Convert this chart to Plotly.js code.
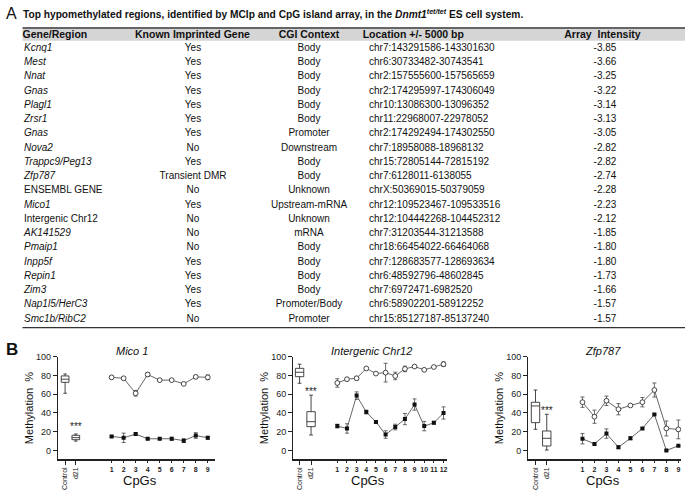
<!DOCTYPE html>
<html><head><meta charset="utf-8">
<script src="https://cdn.plot.ly/plotly-3.0.1.min.js"></script>
<style>html,body{margin:0;padding:0;background:#fff}</style>
</head><body><div id="chart" style="width:690px;height:496px"></div>
<script>
// ---------- Table data (panel A) ----------
const tableHeaders = ['Gene/Region', 'Known Imprinted Gene', 'CGI Context', 'Location +/- 5000 bp', 'Array\u00a0\u00a0Intensity'];
const genes = ['Kcnq1','Mest','Nnat','Gnas','Plagl1','Zrsr1','Gnas','Nova2','Trappc9/Peg13','Zfp787','ENSEMBL GENE','Mico1','Intergenic Chr12','AK141529','Pmaip1','Inpp5f','Repin1','Zim3','Nap1l5/HerC3','Smc1b/RibC2'];
const imprinted = ['Yes','Yes','Yes','Yes','Yes','Yes','Yes','No','Yes','Transient DMR','No','Yes','No','No','No','Yes','Yes','Yes','Yes','No'];
const cgiContext = ['Body','Body','Body','Body','Body','Body','Promoter','Downstream','Body','Body','Unknown','Upstream-mRNA','Unknown','mRNA','Body','Body','Body','Body','Promoter/Body','Promoter'];
const locations = ['chr7:143291586-143301630','chr6:30733482-30743541','chr2:157555600-157565659','chr2:174295997-174306049','chr10:13086300-13096352','chr11:22968007-22978052','chr2:174292494-174302550','chr7:18958088-18968132','chr15:72805144-72815192','chr7:6128011-6138055','chrX:50369015-50379059','chr12:109523467-109533516','chr12:104442268-104452312','chr7:31203544-31213588','chr18:66454022-66464068','chr7:128683577-128693634','chr6:48592796-48602845','chr7:6972471-6982520','chr6:58902201-58912252','chr15:85127187-85137240'];
const intensity = ['-3.85','-3.66','-3.25','-3.22','-3.14','-3.13','-3.05','-2.82','-2.82','-2.74','-2.28','-2.23','-2.12','-1.85','-1.80','-1.80','-1.73','-1.66','-1.57','-1.57'];

// ---------- Panel B data ----------
const plotTitles = ['Mico 1', 'Intergenic Chr12', 'Zfp787'];
const boxLabels = ['Control', 'd21'];

const mico1Cpg = [1,2,3,4,5,6,7,8,9];
const mico1Control = [78, 77, 61, 81, 75, 75, 71, 78.5, 78];
const mico1ControlErr = [1.5, 1.5, 3, 2, 1.5, 1, 1, 1.5, 2.5];
const mico1D21 = [15, 13.5, 17.5, 12.5, 12.5, 12.5, 10.5, 16, 13.5];
const mico1D21Err = [1, 5, 1.5, 1, 1, 1.5, 2, 3, 1.5];
const mico1BoxLow = [61, 10];
const mico1BoxQ1 = [72.7, 11.5];
const mico1BoxMed = [76, 13.7];
const mico1BoxQ3 = [79.5, 16.2];
const mico1BoxHigh = [81.6, 17.6];

const chr12Cpg = [1,2,3,4,5,6,7,8,9,10,11,12];
const chr12Control = [72, 76, 77, 87.5, 82, 83, 79.5, 87, 89.5, 86, 89, 92];
const chr12ControlErr = [4.5, 1.5, 2, 1, 1, 10, 4, 3, 1, 1, 1.5, 2.5];
const chr12D21 = [26, 23.5, 58.5, 41, 30.5, 17, 25, 33.5, 49, 26, 29.5, 40];
const chr12D21Err = [2, 5, 4, 2, 1.5, 4, 3, 6, 6, 5, 1.5, 6.5];
const chr12BoxLow = [71.7, 16.5];
const chr12BoxQ1 = [78.7, 25.4];
const chr12BoxMed = [83.4, 30.7];
const chr12BoxQ3 = [87.6, 41.4];
const chr12BoxHigh = [92, 59];

const zfpCpg = [1,2,3,4,5,6,7,8,9];
const zfpControl = [51.5, 36, 53, 44, 48, 51.5, 64.5, 23.5, 22.5];
const zfpControlErr = [5.5, 7, 5, 6, 1, 5, 7.5, 8, 10];
const zfpD21 = [12.5, 7, 18, 3.5, 13, 23.5, 38.5, 0, 5];
const zfpD21Err = [5.5, 1, 5, 1.5, 1.5, 1, 1, 0.5, 0.5];
const zfpBoxLow = [22.6, 0.5];
const zfpBoxQ1 = [29.7, 4.8];
const zfpBoxMed = [47.5, 13];
const zfpBoxQ3 = [51.4, 20.8];
const zfpBoxHigh = [64.5, 38.6];

const starValues = [26, 63, 43];
const yTicks = [0, 20, 40, 60, 80, 100];

// ---------- layout / style config ----------
const W = 690, H = 496;
const FONT = 'Liberation Sans, Arial, sans-serif';
const px = v => v / W;
const py = v => 1 - v / H;
const plainGeneNames = ['ENSEMBL GENE', 'Intergenic Chr12'];

// table geometry (pixels / row units)
const tableCols = [
  {cells: genes.map(g => plainGeneNames.includes(g) ? g : '<i>' + g + '</i>'), x: 24, hx: 22.5, pos: 'middle right', hpos: 'middle right'},
  {cells: imprinted, x: 193, hx: 192.5, pos: 'middle center', hpos: 'middle center'},
  {cells: cgiContext, x: 309, hx: 309, pos: 'middle center', hpos: 'middle center'},
  {cells: locations, x: 369, hx: 362.7, pos: 'middle right', hpos: 'middle right'},
  {cells: intensity, x: 605, hx: 602.5, pos: 'middle center', hpos: 'middle center'}
];
const rowTop = 48.3, rowPitch = 14.26, tblTop = 28, tblBottom = 327.6, headerY = 35;
const toRow = v => (v - rowTop) / rowPitch;

const panels = [
  {cpg: mico1Cpg, ctl: mico1Control, ctlErr: mico1ControlErr, d21: mico1D21, d21Err: mico1D21Err,
   box: [mico1BoxLow, mico1BoxQ1, mico1BoxMed, mico1BoxQ3, mico1BoxHigh],
   xdom: [58, 215], xr: [-3.46, 9.6], boxPos: [-2.87, -1.98], boxW: 0.64, titleX: 0.47, cpgX: 0.522},
  {cpg: chr12Cpg, ctl: chr12Control, ctlErr: chr12ControlErr, d21: chr12D21, d21Err: chr12D21Err,
   box: [chr12BoxLow, chr12BoxQ1, chr12BoxMed, chr12BoxQ3, chr12BoxHigh],
   xdom: [293.3, 447], xr: [-3.56, 12.36], boxPos: [-2.91, -1.72], boxW: 0.87, titleX: 0.51, cpgX: 0.484},
  {cpg: zfpCpg, ctl: zfpControl, ctlErr: zfpControlErr, d21: zfpD21, d21Err: zfpD21Err,
   box: [zfpBoxLow, zfpBoxQ1, zfpBoxMed, zfpBoxQ3, zfpBoxHigh],
   xdom: [528.3, 681], xr: [-3.52, 9.22], boxPos: [-2.92, -1.98], boxW: 0.7, titleX: 0.49, cpgX: 0.491}
];
const yDom = [py(459.4), py(356.7)];
const yRange = [-9.5, 100];

const traces = [];
const annotations = [];
const layout = {
  width: W, height: H, margin: {l: 0, r: 0, t: 0, b: 0},
  paper_bgcolor: '#fff', plot_bgcolor: 'rgba(0,0,0,0)', showlegend: false,
  font: {family: FONT, color: '#111'},
  shapes: [
    {type: 'line', xref: 'paper', yref: 'paper', x0: px(22.5), x1: px(685), y0: py(28), y1: py(28), line: {color: '#333', width: 1.4}},
    {type: 'rect', xref: 'paper', yref: 'paper', x0: px(22.5), x1: px(685), y0: py(40.7), y1: py(28.7), fillcolor: '#d5d5d5', line: {width: 0}, layer: 'below'},
    {type: 'line', xref: 'paper', yref: 'paper', x0: px(22.5), x1: px(685), y0: py(327.6), y1: py(327.6), line: {color: '#333', width: 1.4}}
  ],
  xaxis7: {domain: [0, 1], range: [0, W], visible: false, fixedrange: true, anchor: 'y7'},
  yaxis7: {domain: [py(tblBottom), py(tblTop)], range: [toRow(tblBottom), toRow(tblTop)], visible: false, fixedrange: true, anchor: 'x7'}
};

// Table drawn as text marks on a hidden row/column axis pair
const rowIdx = genes.map((g, i) => i);
tableCols.forEach((c, j) => {
  traces.push({
    type: 'scatter', mode: 'text', xaxis: 'x7', yaxis: 'y7',
    x: rowIdx.map(() => c.x), y: rowIdx, text: c.cells, textposition: c.pos,
    textfont: {family: FONT, size: 10, color: '#111'}, hoverinfo: 'skip', cliponaxis: false
  });
  traces.push({
    type: 'scatter', mode: 'text', xaxis: 'x7', yaxis: 'y7',
    x: [c.hx], y: [toRow(headerY)], text: ['<b>' + tableHeaders[j] + '</b>'], textposition: c.hpos,
    textfont: {family: FONT, size: 10.5, color: '#111'}, hoverinfo: 'skip', cliponaxis: false
  });
});

panels.forEach((p, i) => {
  const n = i + 1;
  const xa = n === 1 ? 'x' : 'x' + n;
  const ya = n === 1 ? 'y' : 'y' + n;
  const xo = 'x' + (n + 3);
  traces.push({
    type: 'box', xaxis: xa, yaxis: ya, x: p.boxPos,
    lowerfence: p.box[0], q1: p.box[1], median: p.box[2], q3: p.box[3], upperfence: p.box[4],
    width: p.boxW, whiskerwidth: 0.45, boxpoints: false,
    line: {color: '#333', width: 0.9}, fillcolor: '#fff', hoverinfo: 'skip'
  });
  traces.push({
    type: 'scatter', mode: 'lines+markers', xaxis: xo, yaxis: ya, x: p.cpg, y: p.ctl,
    error_y: {type: 'data', array: p.ctlErr, color: '#444', thickness: 0.8, width: 2},
    line: {color: '#555', width: 0.9},
    marker: {symbol: 'circle', size: 4.8, color: '#fff', line: {color: '#333', width: 0.9}}
  });
  traces.push({
    type: 'scatter', mode: 'lines+markers', xaxis: xo, yaxis: ya, x: p.cpg, y: p.d21,
    error_y: {type: 'data', array: p.d21Err, color: '#444', thickness: 0.8, width: 2},
    line: {color: '#555', width: 0.9},
    marker: {symbol: 'square', size: 4, color: '#111'}
  });
  const axKey = n === 1 ? 'xaxis' : 'xaxis' + n;
  const ayKey = n === 1 ? 'yaxis' : 'yaxis' + n;
  layout[axKey] = {
    domain: [px(p.xdom[0]), px(p.xdom[1])], anchor: ya, range: p.xr, fixedrange: true,
    tickvals: p.boxPos, ticktext: boxLabels, tickangle: -90,
    tickfont: {family: FONT, size: 7, color: '#222'},
    ticks: 'outside', ticklen: 4, tickwidth: 1, tickcolor: '#222',
    showline: true, linecolor: '#222', linewidth: 1.2,
    showgrid: false, zeroline: false
  };
  layout['xaxis' + (n + 3)] = {
    overlaying: xa, anchor: ya, range: p.xr, fixedrange: true,
    tickvals: p.cpg, ticktext: p.cpg.map(String), tickangle: 0,
    tickfont: {family: FONT, size: 7, color: '#222', weight: 'bold'},
    ticks: 'outside', ticklen: 3, tickwidth: 1, tickcolor: '#222',
    showline: false, showgrid: false, zeroline: false
  };
  layout[ayKey] = {
    domain: yDom, anchor: xa, range: yRange, fixedrange: true,
    tickvals: yTicks, tickfont: {family: FONT, size: 9, color: '#222'},
    ticks: 'outside', ticklen: 4, tickwidth: 1, tickcolor: '#222',
    showline: true, linecolor: '#222', linewidth: 1.2,
    showgrid: false, zeroline: false,
    title: {text: 'Methylation\u00a0\u00a0%', font: {family: FONT, size: 11, color: '#111'}, standoff: 0}
  };
  annotations.push({
    xref: xa + ' domain', yref: ya + ' domain', x: p.titleX, y: 1, yanchor: 'bottom', yshift: -2,
    text: '<i>' + plotTitles[i] + '</i>', showarrow: false, font: {family: FONT, size: 11, color: '#111'}
  });
  annotations.push({
    xref: xa + ' domain', yref: 'paper', x: p.cpgX, y: py(471), yanchor: 'top',
    text: 'CpGs', showarrow: false, font: {family: FONT, size: 13, color: '#111'}
  });
  annotations.push({
    xref: xa, yref: ya, x: p.boxPos[1], y: starValues[i], text: '***', showarrow: false,
    font: {family: FONT, size: 10, color: '#222'}
  });
});

annotations.push({xref: 'paper', yref: 'paper', x: px(4), y: py(13), xanchor: 'left', yanchor: 'middle',
  text: 'A', showarrow: false, font: {family: FONT, size: 16, color: '#111'}});
annotations.push({xref: 'paper', yref: 'paper', x: px(21), y: py(14), xanchor: 'left', yanchor: 'middle',
  text: '<b>Top hypomethylated regions, identified by MCIp and CpG island array, in the <i>Dnmt1</i><sup><i>tet/tet</i></sup> ES cell system.</b>',
  showarrow: false, font: {family: FONT, size: 10.2, color: '#111'}});
annotations.push({xref: 'paper', yref: 'paper', x: px(4), y: py(349), xanchor: 'left', yanchor: 'middle',
  text: '<b>B</b>', showarrow: false, font: {family: FONT, size: 17, color: '#111'}});

layout.annotations = annotations;
Plotly.newPlot('chart', traces, layout, {displayModeBar: false, staticPlot: true});
</script></body></html>
